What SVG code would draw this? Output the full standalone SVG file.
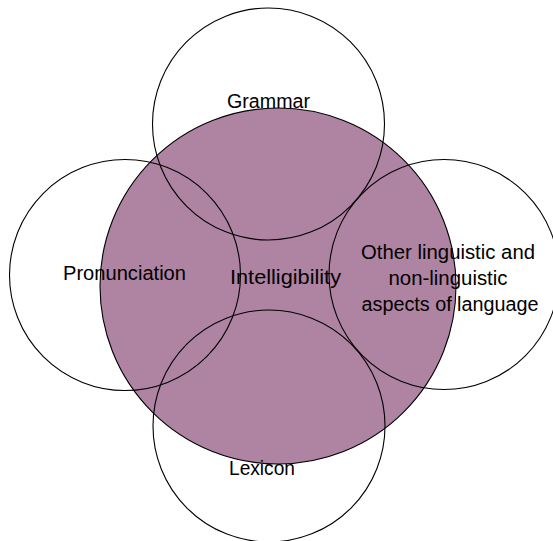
<svg xmlns="http://www.w3.org/2000/svg" width="553" height="541" viewBox="0 0 553 541">
<style>
.ring{fill:none;stroke:#000;stroke-width:1.1}
.core{fill:#AF83A2;stroke:#000;stroke-width:1.1}
.lbl{font-family:"Liberation Sans",Arial,sans-serif;font-size:19.5px;fill:#000;text-anchor:middle}
</style>
<rect width="553" height="541" fill="#fff"/>
<g id="intelligibility">
<circle class="core" cx="278" cy="286" r="178"/>
</g>
<g id="grammar">
<circle class="ring" cx="268.5" cy="124" r="116"/>
<text class="lbl" x="268.5" y="108" textLength="83" lengthAdjust="spacingAndGlyphs">Grammar</text>
</g>
<g id="pronunciation">
<circle class="ring" cx="125" cy="275" r="115.5"/>
<text class="lbl" x="124.5" y="280" textLength="123" lengthAdjust="spacingAndGlyphs">Pronunciation</text>
</g>
<g id="other">
<circle class="ring" cx="444" cy="274.5" r="115"/>
<text class="lbl" x="448" y="259" textLength="174" lengthAdjust="spacingAndGlyphs">Other linguistic and</text>
<text class="lbl" x="448" y="285" textLength="119" lengthAdjust="spacingAndGlyphs">non-linguistic</text>
<text class="lbl" x="450" y="311" textLength="177" lengthAdjust="spacingAndGlyphs">aspects of language</text>
</g>
<g id="lexicon">
<circle class="ring" cx="269" cy="426" r="116"/>
<text class="lbl" x="262" y="475" textLength="66" lengthAdjust="spacingAndGlyphs">Lexicon</text>
</g>
<g id="center-label">
<text class="lbl" x="285.5" y="284" textLength="111" lengthAdjust="spacingAndGlyphs">Intelligibility</text>
</g>
<g id="connectors"></g>
</svg>
